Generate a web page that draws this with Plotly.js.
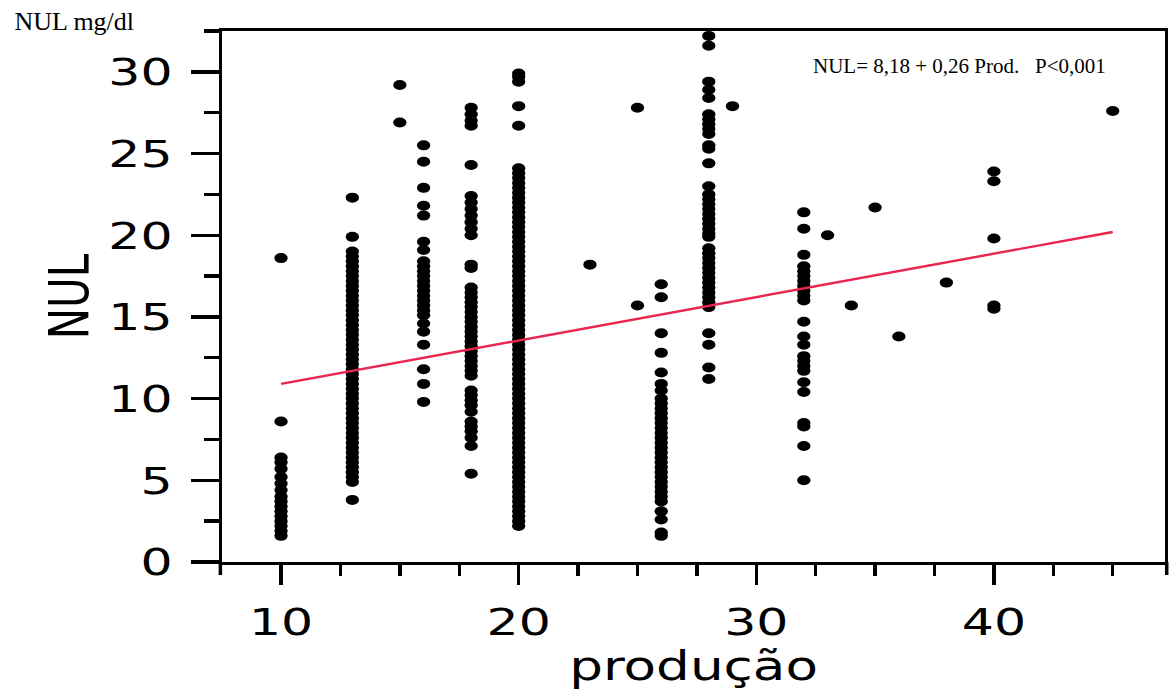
<!DOCTYPE html>
<html>
<head>
<meta charset="utf-8">
<script src="https://cdn.plot.ly/plotly-3.0.1.min.js"></script>
<style>
  html, body { margin: 0; padding: 0; background: #ffffff; overflow: hidden; }
  #chart { width: 879px; height: 689px; transform-origin: 0 0; transform: scaleX(1.32992); }
  /* the reference picture is stretched horizontally, its added notes are not */
  #chart .annotation-text { transform-box: fill-box; transform-origin: 50% 50%; transform: scaleX(0.75193); }
</style>
</head>
<body>
<div id="chart"></div>
<script>
// ---- data ----
const prodLevels = [10, 13, 15, 16, 18, 20, 23, 25, 26, 28, 29, 32, 33, 34, 35, 36, 38, 40, 45];

const nul10 = [18.6, 8.6, 6.4, 6.1, 5.7, 5.2, 4.8, 4.4, 4.0, 3.7, 3.4, 3.1, 2.8, 2.5, 2.2, 1.9, 1.6];
const nul13 = [22.3, 19.9, 19.0, 18.7, 18.4, 18.1, 17.8, 17.5, 17.2, 16.9, 16.6, 16.3, 16.0, 15.7, 15.4, 15.1,
               14.8, 14.5, 14.2, 13.9, 13.6, 13.3, 13.0, 12.7, 12.4, 12.1, 11.8, 11.5, 11.2, 10.9, 10.6, 10.3,
               10.0, 9.7, 9.4, 9.1, 8.8, 8.5, 8.2, 7.9, 7.6, 7.3, 7.0, 6.7, 6.4, 6.1, 5.8, 5.5, 5.2, 4.9, 3.8];
const nul15 = [29.2, 26.9];
const nul16 = [25.5, 24.5, 22.9, 21.8, 21.2, 19.6, 19.1, 18.4, 18.1, 17.8, 17.5, 17.2, 16.9, 16.6, 16.3, 16.0,
               15.7, 15.4, 15.1, 14.6, 14.1, 13.3, 11.8, 10.9, 9.8];
const nul18 = [27.8, 27.4, 27.0, 26.7, 24.3, 22.4, 22.0, 21.6, 21.2, 20.8, 20.4, 20.0, 18.2, 18.0, 16.8, 16.5,
               16.2, 15.9, 15.6, 15.3, 15.0, 14.7, 14.4, 14.1, 13.8, 13.5, 13.2, 12.9, 12.6, 12.3, 12.0, 11.7,
               11.4, 10.5, 10.2, 9.9, 9.6, 9.2, 8.6, 8.3, 8.0, 7.6, 7.1, 5.4];
const nul20 = [29.9, 29.7, 29.4, 27.9, 26.7, 24.1, 23.8, 23.5, 23.2, 22.9, 22.6, 22.3, 22.0, 21.7, 21.4, 21.1,
               20.8, 20.5, 20.2, 19.9, 19.6, 19.3, 19.0, 18.7, 18.4, 18.1, 17.8, 17.5, 17.2, 16.9, 16.6, 16.3,
               16.0, 15.7, 15.4, 15.1, 14.8, 14.5, 14.2, 13.9, 13.6, 13.3, 13.0, 12.7, 12.4, 12.1, 11.8, 11.5,
               11.2, 10.9, 10.6, 10.3, 10.0, 9.7, 9.4, 9.1, 8.8, 8.5, 8.2, 7.9, 7.6, 7.3, 7.0, 6.7, 6.4, 6.1,
               5.8, 5.5, 5.2, 4.9, 4.6, 4.3, 4.0, 3.7, 3.4, 3.1, 2.8, 2.5, 2.2];
const nul23 = [18.2];
const nul25 = [27.8, 15.7];
const nul26 = [17.0, 16.2, 14.0, 12.8, 11.6, 10.9, 10.5, 10.0, 9.7, 9.4, 9.1, 8.8, 8.5, 8.2, 7.9, 7.6, 7.3,
               7.0, 6.7, 6.4, 6.1, 5.8, 5.5, 5.2, 4.9, 4.6, 4.3, 4.0, 3.7, 3.1, 2.6, 1.8, 1.6];
const nul28 = [32.2, 31.6, 29.4, 28.9, 28.4, 27.4, 27.1, 26.8, 26.5, 26.2, 25.5, 25.3, 24.4, 23.0, 22.5, 22.2,
               21.9, 21.6, 21.3, 21.0, 20.7, 20.4, 20.1, 19.9, 19.2, 18.9, 18.6, 18.3, 18.0, 17.7, 17.4, 17.1,
               16.8, 16.5, 16.2, 15.9, 15.6, 14.0, 13.3, 11.9, 11.2];
const nul29 = [27.9];
const nul32 = [21.4, 20.4, 18.8, 18.1, 17.8, 17.5, 17.2, 16.9, 16.6, 16.3, 16.0, 14.7, 13.8, 13.3, 12.6, 12.3,
               12.0, 11.7, 11.0, 10.4, 8.5, 8.3, 7.1, 5.0];
const nul33 = [20.0];
const nul34 = [15.7];
const nul35 = [21.7];
const nul36 = [13.8];
const nul38 = [17.1];
const nul40 = [23.9, 23.3, 19.8, 15.7, 15.5];
const nul45 = [27.6];

const nulByLevel = [nul10, nul13, nul15, nul16, nul18, nul20, nul23, nul25, nul26, nul28, nul29,
                    nul32, nul33, nul34, nul35, nul36, nul38, nul40, nul45];

// fitted line as drawn in the picture
const fitX = [10, 45];
const fitY = [10.9, 20.2];

const xTickVals = [10, 20, 30, 40];
const yTickVals = [0, 5, 10, 15, 20, 25, 30];

const xTitle = 'produção';
const yTitle = 'NUL';
const unitNote = 'NUL mg/dl';
const equationNote = 'NUL= 8,18 + 0,26 Prod.\u00A0\u00A0\u00A0P<0,001';

// ---- build traces ----
const px = [], py = [];
prodLevels.forEach((p, i) => {
  nulByLevel[i].forEach(v => { px.push(p); py.push(v); });
});

const scatter = {
  type: 'scatter', mode: 'markers', x: px, y: py,
  marker: { color: '#000000', size: 10, line: { width: 0 } },
  hoverinfo: 'x+y', cliponaxis: false
};
const fit = {
  type: 'scatter', mode: 'lines', x: fitX, y: fitY,
  line: { color: '#e8264e', width: 2.4 }, hoverinfo: 'skip'
};

const tickFont = { family: 'DejaVu Sans', size: 38, color: '#000000' };

const layout = {
  width: 879, height: 689,
  margin: { l: 167, r: 3, t: 31, b: 127, pad: 0 },
  paper_bgcolor: '#ffffff', plot_bgcolor: '#ffffff',
  showlegend: false,
  xaxis: {
    range: [7.52, 47.2], tickvals: xTickVals, ticktext: xTickVals.map(String),
    ticks: 'outside', ticklen: 20, tickwidth: 2.6, tickcolor: '#000000',
    showline: true, linewidth: 3.4, linecolor: '#000000', mirror: true,
    showgrid: false, zeroline: false, automargin: false,
    tickfont: tickFont, ticklabelstandoff: 4,
    minor: { dtick: 2.5, tick0: 0, ticks: 'outside', ticklen: 11, tickwidth: 2.6, tickcolor: '#000000', showgrid: false },
    title: { text: xTitle, font: { family: 'DejaVu Sans', size: 40, color: '#000000' }, standoff: 6 }
  },
  yaxis: {
    range: [0, 32.5], tickvals: yTickVals, ticktext: yTickVals.map(String),
    ticks: 'outside', ticklen: 21, tickwidth: 3.4, tickcolor: '#000000',
    showline: true, linewidth: 2.6, linecolor: '#000000', mirror: true,
    showgrid: false, zeroline: false, automargin: false,
    tickfont: tickFont, ticklabelstandoff: 6,
    minor: { dtick: 2.5, tick0: 0, ticks: 'outside', ticklen: 11, tickwidth: 3.4, tickcolor: '#000000', showgrid: false },
    title: { text: yTitle, font: { family: 'DejaVu Sans', size: 42, color: '#000000' }, standoff: 2 }
  },
  shapes: [
    { type: 'line', xref: 'paper', yref: 'paper', ysizemode: 'pixel', yanchor: 0,
      x0: -0.00183, x1: -0.00183, y0: 0, y1: -13, line: { color: '#000000', width: 2.6 } },
    { type: 'line', xref: 'paper', yref: 'paper', ysizemode: 'pixel', yanchor: 0,
      x0: 1.00183, x1: 1.00183, y0: 0, y1: -13, line: { color: '#000000', width: 2.6 } }
  ],
  annotations: [
    { text: unitNote, xref: 'paper', yref: 'paper', x: -0.157, y: 1.017,
      xanchor: 'center', yanchor: 'middle', showarrow: false,
      font: { family: 'Liberation Serif', size: 26, color: '#000000' } },
    { text: equationNote, xref: 'paper', yref: 'paper', x: 0.7825, y: 0.934,
      xanchor: 'center', yanchor: 'middle', showarrow: false,
      font: { family: 'Liberation Serif', size: 21, color: '#000000' } }
  ]
};

Plotly.newPlot('chart', [scatter, fit], layout, { displayModeBar: false, staticPlot: true });
</script>
</body>
</html>
